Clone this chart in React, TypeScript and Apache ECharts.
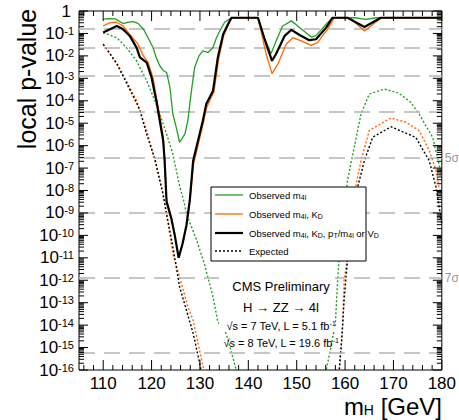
import React, { useEffect, useRef } from "react";
import * as echarts from "echarts";

// ---------- data (log10 of local p-value) ----------
const obsM4lX = [110, 111, 112.5, 114.1, 115.2, 116.2, 117.2, 118.3, 119.3, 120.3, 121.0, 121.7, 122.4, 123.1, 123.8, 124.1, 124.4, 125.1, 125.8, 126.9, 127.5, 127.9, 128.4, 128.9, 129.8, 130.6, 131.7, 132.7, 133.4, 134.1, 135.1, 136.1, 137.0, 142.0, 143.0, 144.7, 145.8, 147.1, 148.9, 150.6, 153.0, 154.0, 156.1, 157.4, 162.0, 164.3, 166.5, 178.5, 180];
const obsM4lLogP = [-0.36, -0.34, -0.35, -0.56, -0.5, -0.47, -0.55, -0.8, -1.2, -1.63, -2.1, -2.44, -2.65, -2.74, -3.4, -4.0, -4.59, -5.19, -5.85, -5.48, -4.89, -4.15, -3.3, -2.52, -2.0, -1.78, -1.85, -1.63, -1.2, -0.89, -0.5, -0.36, -0.301, -0.301, -1.04, -1.9, -1.3, -0.67, -0.44, -0.74, -1.16, -1.1, -0.59, -0.301, -0.301, -0.37, -0.301, -0.301, -0.38];

const obsKdX = [110, 111.4, 112.8, 114.1, 115.5, 117.2, 118.3, 119.3, 120.3, 121.0, 121.7, 122.4, 122.7, 123.1, 124.1, 124.8, 125.6, 126.4, 127.2, 127.9, 128.7, 129.7, 130.7, 131.4, 132.1, 132.9, 133.9, 134.9, 135.9, 136.6, 142.0, 143.7, 144.9, 146.1, 147.8, 149.2, 150.9, 153.0, 154.3, 156.4, 157.8, 161.0, 164.0, 167.5, 180];
const obsKdLogP = [-0.67, -0.52, -0.5, -0.67, -1.04, -1.48, -2.0, -2.3, -2.96, -3.85, -4.7, -5.6, -6.5, -8.4, -9.2, -9.95, -11.0, -10.4, -9.6, -8.5, -6.8, -5.9, -5.0, -4.3, -3.95, -3.6, -2.1, -1.1, -0.6, -0.301, -0.301, -1.93, -2.79, -2.37, -1.48, -1.19, -1.33, -1.53, -1.41, -0.81, -0.301, -0.301, -0.89, -0.301, -0.301];

const obsAllX = [110, 111.4, 112.8, 114.1, 115.5, 116.9, 117.6, 119.0, 120.0, 120.7, 121.0, 121.7, 122.4, 122.7, 123.1, 124.1, 124.8, 125.6, 126.4, 127.2, 127.9, 128.6, 129.6, 130.6, 131.3, 132.0, 132.7, 133.7, 134.8, 135.8, 136.5, 142.0, 143.7, 144.9, 145.7, 147.5, 148.9, 150.6, 152.6, 154.0, 156.1, 157.4, 160.5, 164.0, 167.4, 180];
const obsAllLogP = [-0.96, -0.81, -0.67, -0.81, -1.11, -1.63, -2.07, -2.3, -2.96, -3.7, -4.0, -4.89, -5.78, -6.67, -8.5, -9.26, -10.0, -11.0, -10.37, -9.56, -8.44, -6.67, -5.78, -4.89, -4.15, -3.85, -3.56, -2.07, -1.04, -0.59, -0.301, -0.301, -1.48, -2.22, -1.93, -1.11, -0.84, -1.07, -1.3, -1.26, -0.74, -0.301, -0.301, -0.71, -0.301, -0.301];

const expM4lX = [110, 112.8, 114.8, 116.9, 119.0, 120.7, 121.7, 123.1, 124.4, 125.8, 126.7, 127.2, 129.3, 130.9, 132.7, 133.7, 135.4, 136.5, 137.5, 138.0, 147.0, 155.8, 156.1, 157.1, 158.0, 158.5, 158.8, 159.5, 160.5, 161.9, 163.3, 165.0, 168.1, 171.0, 173.5, 175.3, 178.1, 179.1, 180];
const expM4lLogP = [-0.96, -1.19, -1.63, -2.22, -3.11, -4.0, -4.59, -5.48, -6.37, -7.8, -8.5, -9.04, -10.2, -11.26, -12.74, -13.85, -14.37, -15.2, -16.0, -16.5, null, -16.5, -16.0, -14.96, -13.9, -11.85, -10.96, -9.3, -7.56, -6.07, -4.59, -3.7, -3.48, -3.65, -4.05, -4.59, -5.63, -6.52, -7.4];

const expKdX = [110, 112.8, 114.8, 116.9, 119.0, 120.7, 122.4, 123.4, 124.4, 125.8, 127.5, 128.6, 129.6, 130.8, 131.2, 145.0, 158.5, 158.8, 159.5, 159.8, 160.5, 162.3, 163.3, 165.0, 169.5, 172.6, 175.3, 177.4, 178.8, 179.4, 180];
const expKdLogP = [-1.48, -2.3, -3.11, -4.0, -5.33, -6.67, -8.15, -9.48, -10.81, -11.85, -13.19, -13.78, -14.81, -16.0, -16.5, null, -16.5, -16.0, -14.07, -12.0, -11.0, -7.7, -6.67, -5.33, -4.77, -4.96, -5.33, -6.22, -7.1, -7.85, -8.3];

const expAllX = [110, 112.8, 114.8, 116.9, 117.6, 119.0, 120.7, 122.4, 123.1, 124.4, 125.8, 127.2, 128.6, 129.8, 130.2, 130.5, 145.0, 158.5, 158.8, 159.3, 159.8, 160.5, 162.6, 164.0, 165.7, 169.5, 174.6, 177.4, 178.8, 179.5, 180];
const expAllLogP = [-1.48, -2.35, -3.2, -4.1, -4.44, -5.5, -6.6, -8.2, -9.04, -10.5, -12.3, -13.33, -14.37, -15.56, -16.0, -16.5, null, -16.5, -16.0, -14.67, -12.9, -11.1, -7.85, -6.67, -5.63, -5.16, -5.63, -6.67, -7.85, -8.8, -9.5];

// significance levels (one-sided p-values for 1..8 sigma)
const sigmaPValues = [0.1587, 0.02275, 0.00135, 3.167e-5, 2.867e-7, 9.866e-10, 1.28e-12, 6.22e-16];
const sigmaLabels = ["", "", "", "", "5σ", "", "7σ", ""];

// ticks
const xMajorTicks = [110, 120, 130, 140, 150, 160, 170, 180];
const xMinorTicks = [106, 108, 112, 114, 116, 118, 122, 124, 126, 128, 132, 134, 136, 138, 142, 144, 146, 148, 152, 154, 156, 158, 162, 164, 166, 168, 172, 174, 176, 178];
const yDecades = [-16, -15, -14, -13, -12, -11, -10, -9, -8, -7, -6, -5, -4, -3, -2, -1, 0];
const yMinorMultipliers = [2, 3, 4, 5, 6, 7, 8, 9];

const legendLabels = [
  "Observed m{d|4l}",
  "Observed m{d|4l}, K{d|D}",
  "Observed m{d|4l}, K{d|D}, p{d|T}/m{d|4l} or V{d|D}",
  "Expected",
];

const GREEN = "#20a020";
const ORANGE = "#ff6600";
const FONT = "Liberation Sans, Arial, sans-serif";
const NARROW = "Liberation Sans Narrow, Liberation Sans, Arial, sans-serif";

const zip = (xs: number[], ys: (number | null)[]) =>
  xs.map((x, i) => [x, ys[i] === null ? "-" : ys[i]]);

export default function App() {
  const ref = useRef<HTMLDivElement>(null);
  useEffect(() => {
    if (!ref.current) return;
    const chart = echarts.init(ref.current, null, { renderer: "svg" });

    const tickSeries = {
      type: "custom",
      silent: true,
      z: 20,
      clip: false,
      data: [[105, -16]],
      renderItem: (params: any, api: any) => {
        const cs = params.coordSys;
        const left = cs.x, right = cs.x + cs.width, top = cs.y, bottom = cs.y + cs.height;
        const children: any[] = [];
        const seg = (x1: number, y1: number, x2: number, y2: number) =>
          children.push({ type: "line", shape: { x1, y1, x2, y2 }, style: { stroke: "#000", lineWidth: 1 } });
        xMajorTicks.forEach((v) => {
          const px = api.coord([v, -16])[0];
          seg(px, bottom, px, bottom - 10);
          seg(px, top, px, top + 10);
        });
        xMinorTicks.forEach((v) => {
          const px = api.coord([v, -16])[0];
          seg(px, bottom, px, bottom - 5);
          seg(px, top, px, top + 5);
        });
        yDecades.forEach((d) => {
          const py = api.coord([105, d])[1];
          seg(left, py, left + 9, py);
          seg(right, py, right - 9, py);
          if (d < 0) {
            yMinorMultipliers.forEach((k) => {
              const qy = api.coord([105, d + Math.log10(k)])[1];
              seg(left, qy, left + 5, qy);
              seg(right, qy, right - 5, qy);
            });
          }
        });
        return { type: "group", children };
      },
    };

    const lineSeries = (name: string, data: any[], color: string, width: number, dotted: boolean, z: number) => ({
      name,
      type: "line",
      data,
      showSymbol: false,
      symbol: "none",
      connectNulls: false,
      clip: true,
      z,
      silent: true,
      lineStyle: { color, width, type: dotted ? [2, 2] : "solid" },
    });

    const option: any = {
      animation: false,
      grid: { left: 79, top: 10, width: 363, height: 360, show: true, borderColor: "#000", borderWidth: 1, backgroundColor: "transparent" },
      xAxis: {
        type: "value",
        min: 105,
        max: 180,
        interval: 5,
        axisLine: { show: false },
        axisTick: { show: false },
        splitLine: { show: false },
        axisLabel: {
          formatter: (v: number) => (v % 10 === 0 ? String(v) : ""),
          fontSize: 17,
          lineHeight: 14,
          fontFamily: FONT,
          color: "#000",
          margin: 6,
        },
      },
      yAxis: {
        type: "value",
        min: -16,
        max: 0,
        interval: 1,
        axisLine: { show: false },
        axisTick: { show: false },
        splitLine: { show: false },
        axisLabel: {
          margin: 5,
          showMinLabel: true,
          showMaxLabel: true,
          hideOverlap: false,
          formatter: (v: number) => (v === 0 ? "{b|1}{s| }" : "{b|10}{s|" + v + "}"),
          rich: {
            b: { fontSize: 17, lineHeight: 17, fontFamily: FONT, color: "#000", verticalAlign: "bottom" },
            s: { fontSize: 11, lineHeight: 11, fontFamily: FONT, color: "#000", padding: [3, 0, 8, 0] },
          },
        },
      },
      series: [
        {
          type: "line",
          data: [],
          z: 1,
          silent: true,
          markLine: {
            silent: true,
            symbol: ["none", "none"],
            lineStyle: { color: "#b4b4b4", type: [16, 9], width: 1.5 },
            data: sigmaPValues.map((p, i) => ({
              yAxis: Math.log10(p),
              label: sigmaLabels[i]
                ? { show: true, position: "end", formatter: sigmaLabels[i], color: "#999", fontSize: 12, fontFamily: FONT, distance: 3 }
                : { show: false },
            })),
          },
        },
        lineSeries("Expected m4l", zip(expM4lX, expM4lLogP), GREEN, 1.4, true, 2),
        lineSeries("Expected KD", zip(expKdX, expKdLogP), ORANGE, 1.4, true, 3),
        lineSeries("Expected", zip(expAllX, expAllLogP), "#000", 1.4, true, 4),
        lineSeries("Observed m4l", zip(obsM4lX, obsM4lLogP), GREEN, 1.3, false, 5),
        lineSeries("Observed m4l, KD", zip(obsKdX, obsKdLogP), ORANGE, 1.3, false, 6),
        lineSeries("Observed combined", zip(obsAllX, obsAllLogP), "#000", 2.2, false, 7),
        tickSeries,
      ],
      graphic: [
        // y axis title
        {
          type: "text",
          x: 27,
          y: 79,
          rotation: Math.PI / 2,
          z: 100,
          style: { text: "local p-value", fontSize: 25, fontFamily: FONT, fill: "#000", align: "center", verticalAlign: "middle" },
        },
        // x axis title
        {
          type: "text",
          x: 442,
          y: 406,
          z: 100,
          style: {
            text: "{m|m}{h|H}{m| [GeV]}",
            align: "right",
            verticalAlign: "middle",
            rich: {
              m: { fontSize: 24, fontFamily: FONT, fill: "#000", lineHeight: 22 },
              h: { fontSize: 14, fontFamily: FONT, fill: "#000", lineHeight: 10, padding: [10, 0, 2, 0] },
            },
          },
        },
        // white box behind the CMS text
        { type: "rect", z: 90, shape: { x: 219, y: 266, width: 116, height: 65 }, style: { fill: "#fff" } },
        { type: "text", z: 100, x: 281, y: 286, style: { text: "CMS Preliminary", fontSize: 13, fontFamily: FONT, fill: "#000", align: "center", verticalAlign: "middle" } },
        { type: "text", z: 100, x: 281, y: 307, style: { text: "H → ZZ → 4l", fontSize: 13, fontFamily: FONT, fill: "#000", align: "center", verticalAlign: "middle" } },
        {
          type: "text", z: 100, x: 281, y: 326,
          style: {
            text: "√s = 7 TeV, L = 5.1 fb{u|-1}", fontSize: 11, fontFamily: NARROW, fill: "#000", align: "center", verticalAlign: "middle",
            rich: { u: { fontSize: 7, fontFamily: NARROW, fill: "#000", padding: [0, 0, 6, 0] } },
          },
        },
        {
          type: "text", z: 100, x: 281, y: 343,
          style: {
            text: "√s = 8 TeV, L = 19.6 fb{u|-1}", fontSize: 11, fontFamily: NARROW, fill: "#000", align: "center", verticalAlign: "middle",
            rich: { u: { fontSize: 7, fontFamily: NARROW, fill: "#000", padding: [0, 0, 6, 0] } },
          },
        },
        // legend
        { type: "rect", z: 95, shape: { x: 211, y: 187, width: 155, height: 74 }, style: { fill: "#fff", stroke: "#000", lineWidth: 1 } },
        { type: "line", z: 100, shape: { x1: 215, y1: 195, x2: 243, y2: 195 }, style: { stroke: GREEN, lineWidth: 1.3 } },
        { type: "line", z: 100, shape: { x1: 215, y1: 214, x2: 243, y2: 214 }, style: { stroke: ORANGE, lineWidth: 1.3 } },
        { type: "line", z: 100, shape: { x1: 215, y1: 233, x2: 243, y2: 233 }, style: { stroke: "#000", lineWidth: 2.2 } },
        { type: "line", z: 100, shape: { x1: 215, y1: 251, x2: 243, y2: 251 }, style: { stroke: "#000", lineWidth: 1.3, lineDash: [2, 2] } },
        ...legendLabels.map((t, i) => ({
          type: "text",
          z: 100,
          x: 249,
          y: [195, 214, 233, 251][i],
          style: {
            text: t,
            fontSize: 9.5,
            fontFamily: NARROW,
            fill: "#000",
            align: "left",
            verticalAlign: "middle",
            rich: { d: { fontSize: 7, fontFamily: NARROW, fill: "#000", padding: [5, 0, 0, 0] } },
          },
        })),
      ],
    };
    chart.setOption(option);
    return () => chart.dispose();
  }, []);
  return <div ref={ref} style={{ position: "absolute", left: 0, top: 0, width: 459, height: 420 }} />;
}
